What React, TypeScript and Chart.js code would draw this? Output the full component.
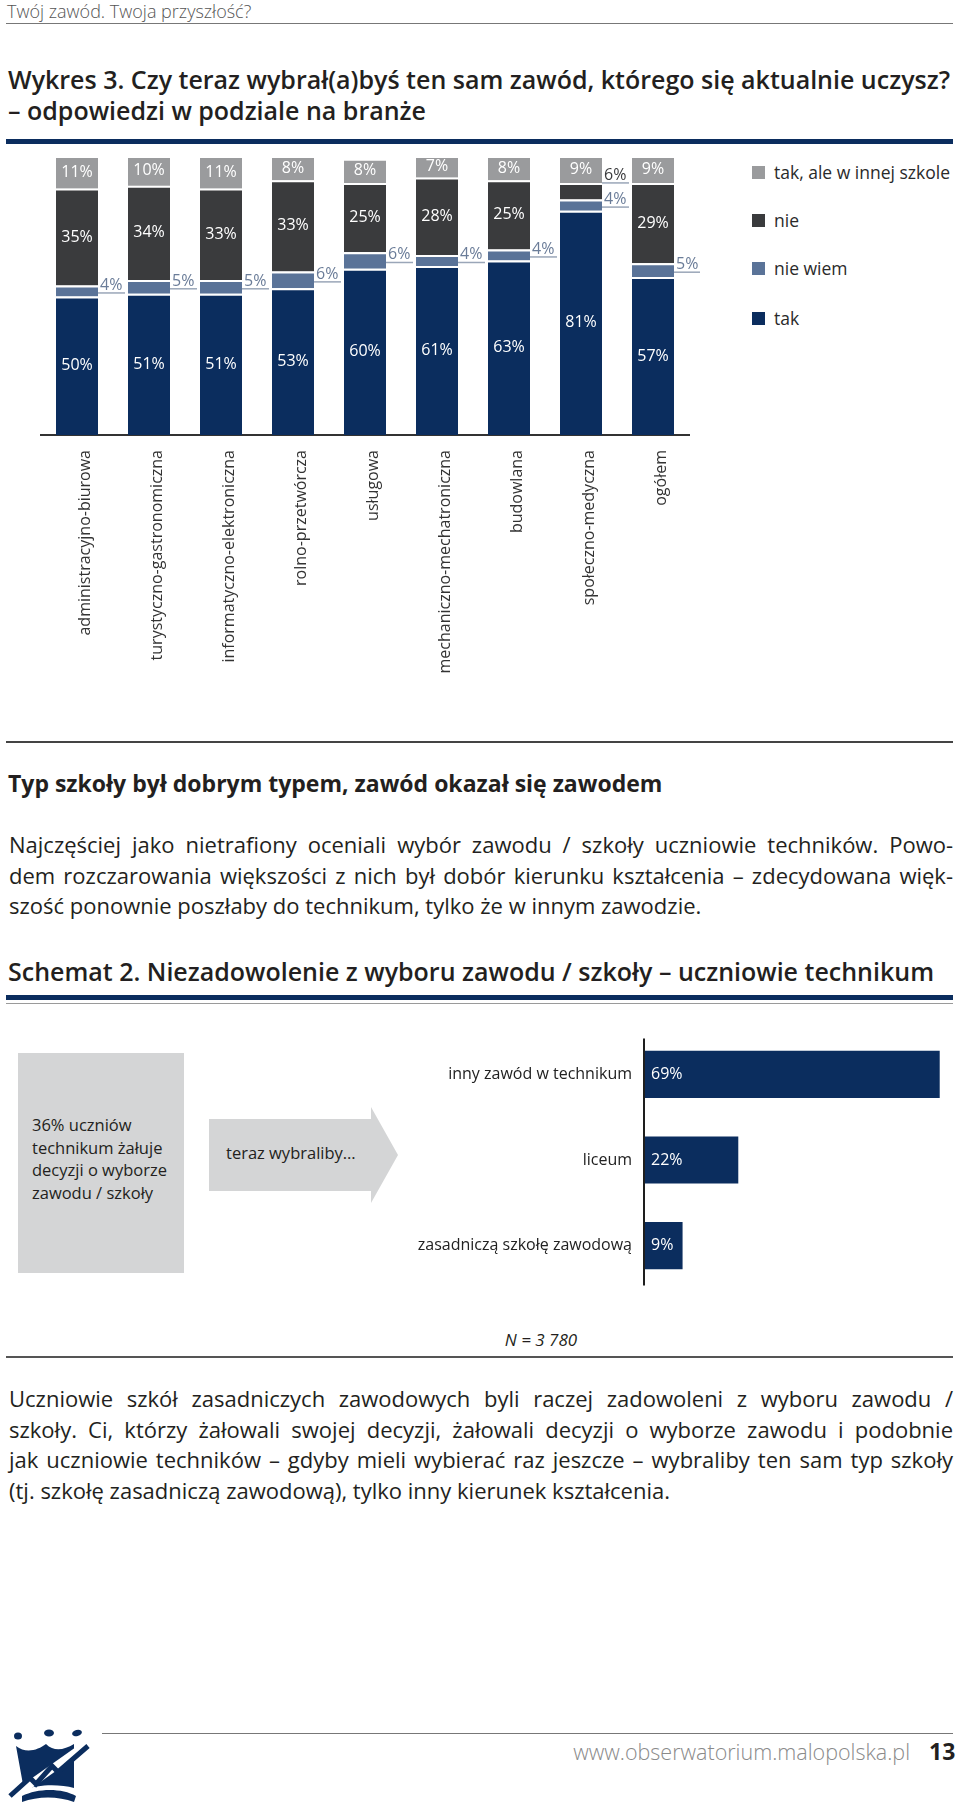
import React, { useEffect, useRef } from "react";
import { Chart, registerables } from "chart.js";

Chart.register(...registerables);

// ---------- DATA ----------
const branches = [
  "administracyjno-biurowa",
  "turystyczno-gastronomiczna",
  "informatyczno-elektroniczna",
  "rolno-przetwórcza",
  "usługowa",
  "mechaniczno-mechatroniczna",
  "budowlana",
  "społeczno-medyczna",
  "ogółem",
];
const takValues = [50, 51, 51, 53, 60, 61, 63, 81, 57];
const nieWiemValues = [4, 5, 5, 6, 6, 4, 4, 4, 5];
const nieValues = [35, 34, 33, 33, 25, 28, 25, 6, 29];
const takInnaValues = [11, 10, 11, 8, 8, 7, 8, 9, 9];
const seriesNames = ["tak", "nie wiem", "nie", "tak, ale w innej szkole"];
const seriesColors = ["#0b2d5e", "#5a7398", "#3a3b3d", "#9a9b9d"];
const legendOrder = [3, 2, 1, 0];

const choiceLabels = ["inny zawód w technikum", "liceum", "zasadniczą szkołę zawodową"];
const choiceValues = [69, 22, 9];

const FONT = '"Open Sans", "Noto Sans", sans-serif';
const NAVY = "#0b2d5e";

// ---------- PLUGINS ----------
const stackLabels = {
  id: "stackLabels",
  afterDatasetsDraw(chart: any) {
    const ctx = chart.ctx;
    ctx.save();
    ctx.font = `16px ${FONT}`;
    chart.data.datasets.forEach((ds: any, di: number) => {
      const meta = chart.getDatasetMeta(di);
      meta.data.forEach((bar: any, i: number) => {
        const v = ds.data[i];
        const p = bar.getProps(["x", "y", "base", "width"], true);
        const top = Math.min(p.y, p.base);
        const bottom = Math.max(p.y, p.base);
        const cy = (top + bottom) / 2;
        const right = p.x + p.width / 2;
        const text = v + "%";
        const outside = di === 1 || (di === 2 && v < 10);
        if (!outside) {
          ctx.fillStyle = "#ffffff";
          ctx.textAlign = "center";
          ctx.textBaseline = "middle";
          ctx.fillText(text, p.x, di === 3 ? cy - 1 : cy);
        } else {
          const ly = di === 1 ? cy + 2 : top;
          ctx.strokeStyle = "#9aa6b8";
          ctx.lineWidth = 1.5;
          ctx.beginPath();
          ctx.moveTo(right, ly);
          ctx.lineTo(right + 27, ly);
          ctx.stroke();
          ctx.fillStyle = di === 1 ? "#6a7c98" : "#3a3b3d";
          ctx.textAlign = "left";
          ctx.textBaseline = "alphabetic";
          ctx.fillText(text, right + 2, ly - 3);
        }
      });
    });
    ctx.restore();
  },
};

const barValueLabels = {
  id: "barValueLabels",
  afterDatasetsDraw(chart: any) {
    const ctx = chart.ctx;
    const area = chart.chartArea;
    ctx.save();
    ctx.strokeStyle = "#1e1e1e";
    ctx.lineWidth = 2;
    ctx.beginPath();
    ctx.moveTo(area.left, area.top + 7);
    ctx.lineTo(area.left, area.bottom - 3);
    ctx.stroke();
    ctx.font = `16px ${FONT}`;
    ctx.fillStyle = "#ffffff";
    ctx.textAlign = "left";
    ctx.textBaseline = "middle";
    const meta = chart.getDatasetMeta(0);
    meta.data.forEach((bar: any, i: number) => {
      const p = bar.getProps(["x", "y", "base"], true);
      ctx.fillText(chart.data.datasets[0].data[i] + "%", p.base + 7, p.y);
    });
    ctx.restore();
  },
};

// ---------- CHARTS ----------
function StackedChart() {
  const ref = useRef<HTMLCanvasElement>(null);
  useEffect(() => {
    const values = [takValues, nieWiemValues, nieValues, takInnaValues];
    const chart = new Chart(ref.current!, {
      type: "bar",
      data: {
        labels: branches,
        datasets: values.map((d, k) => ({
          label: seriesNames[k],
          data: d,
          backgroundColor: seriesColors[k],
          borderColor: "#ffffff",
          borderWidth: k === 3 ? 0 : { top: 2, left: 0, right: 0, bottom: 0 },
          borderSkipped: false,
          barPercentage: 1,
          categoryPercentage: 42 / 72,
        })),
      },
      options: {
        animation: false,
        responsive: false,
        maintainAspectRatio: false,
        layout: { padding: { left: 41, right: 11, top: 8, bottom: 0 } },
        plugins: { legend: { display: false }, tooltip: { enabled: false } },
        scales: {
          x: {
            stacked: true,
            grid: { display: false, drawTicks: false },
            border: { display: true, color: "#333333", width: 2 },
            ticks: {
              color: "#333333",
              font: { family: FONT, size: 16 },
              minRotation: 90,
              maxRotation: 90,
              padding: 15,
              labelOffset: 8,
              autoSkip: false,
            },
            afterFit: (s: any) => {
              s.height = 275;
            },
          },
          y: { stacked: true, display: false, min: 0, max: 100 },
        },
      },
      plugins: [stackLabels],
    } as any);
    return () => chart.destroy();
  }, []);
  return (
    <canvas
      ref={ref}
      width={700}
      height={560}
      style={{ position: "absolute", left: 0, top: 150, width: 700, height: 560 }}
    />
  );
}

function ChoiceChart() {
  const ref = useRef<HTMLCanvasElement>(null);
  useEffect(() => {
    const chart = new Chart(ref.current!, {
      type: "bar",
      data: {
        labels: choiceLabels,
        datasets: [
          {
            label: "teraz wybraliby",
            data: choiceValues,
            backgroundColor: NAVY,
            barPercentage: 1,
            categoryPercentage: 0.55,
          },
        ],
      },
      options: {
        indexAxis: "y",
        animation: false,
        responsive: false,
        maintainAspectRatio: false,
        layout: { padding: { left: 0, right: 16, top: 0, bottom: 0 } },
        plugins: { legend: { display: false }, tooltip: { enabled: false } },
        scales: {
          x: { display: false, min: 0, max: 70 },
          y: {
            grid: { display: false, drawTicks: false },
            border: { display: false },
            ticks: { color: "#222222", font: { family: FONT, size: 16 }, padding: 12 },
            afterFit: (s: any) => {
              s.width = 644;
            },
          },
        },
      },
      plugins: [barValueLabels],
    } as any);
    return () => chart.destroy();
  }, []);
  return (
    <canvas
      ref={ref}
      width={960}
      height={300}
      style={{ position: "absolute", left: 0, top: 1010, width: 960, height: 300 }}
    />
  );
}

// ---------- PAGE ----------
const abs = (s: React.CSSProperties): React.CSSProperties => ({ position: "absolute", ...s });

function JLine({ text, last }: { text: string; last?: boolean }) {
  return (
    <div style={{ textAlign: last ? "left" : "justify", textAlignLast: last ? "left" : "justify" } as any}>{text}</div>
  );
}

const para1 = [
  "Najczęściej jako nietrafiony oceniali wybór zawodu / szkoły uczniowie techników. Powo-",
  "dem rozczarowania większości z nich był dobór kierunku kształcenia – zdecydowana więk-",
  "szość ponownie poszłaby do technikum, tylko że w innym zawodzie.",
];
const para2 = [
  "Uczniowie szkół zasadniczych zawodowych byli raczej zadowoleni z wyboru zawodu /",
  "szkoły. Ci, którzy żałowali swojej decyzji, żałowali decyzji o wyborze zawodu i podobnie",
  "jak uczniowie techników – gdyby mieli wybierać raz jeszcze – wybraliby ten sam typ szkoły",
  "(tj. szkołę zasadniczą zawodową), tylko inny kierunek kształcenia.",
];

export default function App() {
  const legendY = [172, 220, 268, 318];
  return (
    <div
      style={{
        position: "absolute",
        left: 0,
        top: 0,
        width: 960,
        height: 1804,
        background: "#ffffff",
        fontFamily: FONT,
        color: "#231f20",
        overflow: "hidden",
      }}
    >
      {/* header */}
      <div style={abs({ left: 7, top: 0, fontSize: 18, fontWeight: 300, color: "#555", lineHeight: "22px" })}>
        Twój zawód. Twoja przyszłość?
      </div>
      <div style={abs({ left: 6, top: 23, width: 947, height: 1, background: "#777" })} />

      {/* title */}
      <div style={abs({ left: 8, top: 64, fontSize: 25, fontWeight: 600, lineHeight: "31px", color: "#231f20" })}>
        Wykres 3. Czy teraz wybrał(a)byś ten sam zawód, którego się aktualnie uczysz?
        <br />– odpowiedzi w podziale na branże
      </div>
      <div style={abs({ left: 6, top: 139, width: 947, height: 5, background: NAVY })} />

      <StackedChart />

      {/* legend */}
      {legendOrder.map((k, i) => (
        <div key={k} style={abs({ left: 752, top: legendY[i] - 11, height: 22, display: "flex", alignItems: "center" })}>
          <div style={{ width: 13, height: 13, background: seriesColors[k], marginRight: 9 }} />
          <div style={{ fontSize: 17.5, color: "#2a2a2a", lineHeight: "22px" }}>{seriesNames[k]}</div>
        </div>
      ))}

      <div style={abs({ left: 6, top: 741, width: 947, height: 2, background: "#444" })} />

      <div style={abs({ left: 8, top: 768, fontSize: 23, fontWeight: 700, lineHeight: "31px" })}>
        Typ szkoły był dobrym typem, zawód okazał się zawodem
      </div>

      <div style={abs({ left: 9, top: 829, width: 944, fontSize: 22, lineHeight: "30.5px" })}>
        {para1.map((t, i) => (
          <JLine key={i} text={t} last={i === para1.length - 1} />
        ))}
      </div>

      <div style={abs({ left: 8, top: 955, fontSize: 25, fontWeight: 600, lineHeight: "32px" })}>
        Schemat 2. Niezadowolenie z wyboru zawodu / szkoły – uczniowie technikum
      </div>
      <div style={abs({ left: 6, top: 995, width: 947, height: 5, background: NAVY })} />
      <div style={abs({ left: 6, top: 1003, width: 947, height: 1, background: "#9a9a9a" })} />

      {/* schemat left part */}
      <div style={abs({ left: 18, top: 1053, width: 166, height: 220, background: "#d4d5d6" })} />
      <div style={abs({ left: 32, top: 1114, fontSize: 16.5, lineHeight: "22.6px", color: "#231f20" })}>
        36% uczniów
        <br />
        technikum żałuje
        <br />
        decyzji o wyborze
        <br />
        zawodu / szkoły
      </div>
      <div
        style={abs({
          left: 209,
          top: 1107,
          width: 190,
          height: 96,
          background: "#d4d5d6",
          clipPath: "polygon(0px 12px, 162px 12px, 162px 0px, 189px 48px, 162px 96px, 162px 84px, 0px 84px)",
        })}
      />
      <div style={abs({ left: 226, top: 1142, fontSize: 16.5, lineHeight: "22px", color: "#231f20" })}>
        teraz wybraliby…
      </div>

      <ChoiceChart />

      <div style={abs({ left: 441, top: 1328, width: 200, textAlign: "center", fontSize: 17, fontStyle: "italic", lineHeight: "24px" })}>
        N = 3 780
      </div>
      <div style={abs({ left: 6, top: 1356, width: 947, height: 2, background: "#555" })} />

      <div style={abs({ left: 9, top: 1383, width: 944, fontSize: 22, lineHeight: "30.5px" })}>
        {para2.map((t, i) => (
          <JLine key={i} text={t} last={i === para2.length - 1} />
        ))}
      </div>

      {/* footer */}
      <svg style={abs({ left: 4, top: 1726, width: 88, height: 78 })} viewBox="0 0 88 78">
        <ellipse cx="14" cy="10" rx="4" ry="3.5" fill={NAVY} />
        <ellipse cx="45" cy="7" rx="5" ry="3.5" fill={NAVY} />
        <ellipse cx="73" cy="7" rx="5" ry="3" fill={NAVY} transform="rotate(-15 73 7)" />
        <path d="M12 20 C22 28 34 24 42 18 C50 26 60 24 70 18 L70 62 C56 58 34 58 20 64 Z" fill={NAVY} />
        <path d="M4 74 L86 16" stroke="#ffffff" strokeWidth="8" />
        <path d="M6 70 L26 52 L32 58 L48 40 L54 46 L84 20" stroke={NAVY} strokeWidth="5" fill="none" />
        <path d="M18 70 C34 62 58 62 72 70 L70 76 C54 70 34 70 18 76 Z" fill={NAVY} />
      </svg>
      <div style={abs({ left: 102, top: 1733, width: 851, height: 1, background: "#777" })} />
      <div style={abs({ left: 460, top: 1738, width: 450, textAlign: "right", fontSize: 21.5, color: "#8a8a8a", fontWeight: 300, lineHeight: "28px" })}>
        www.obserwatorium.malopolska.pl
      </div>
      <div style={abs({ left: 929, top: 1736, fontSize: 23, fontWeight: 700, color: "#231f20", lineHeight: "30px" })}>
        13
      </div>
    </div>
  );
}
